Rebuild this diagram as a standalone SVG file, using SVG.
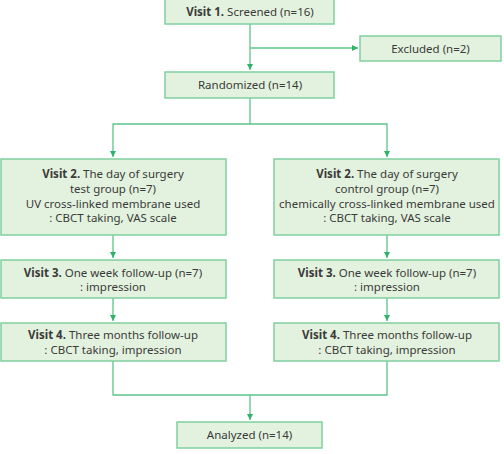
<svg xmlns="http://www.w3.org/2000/svg" width="504" height="454" viewBox="0 0 504 454">
<style>
.box{fill:#e3f2de;stroke:#7fcf9f;stroke-width:1.5}
.t{font-family:"Noto Sans","Open Sans",sans-serif;font-size:11.5px;fill:#3a3a3a;text-anchor:middle}
.b{font-weight:bold}
.ln{fill:none;stroke:#5cc48a;stroke-width:1.3}
</style>
<defs>
<marker id="ah" markerWidth="8" markerHeight="8" refX="6" refY="3" orient="auto" markerUnits="userSpaceOnUse">
<path d="M0,0 L6,3 L0,6 Z" fill="#2fb36a"/>
</marker>
</defs>
<rect width="504" height="454" fill="#ffffff"/>
<g id="connectors">
<path class="ln" d="M250,24 V70" marker-end="url(#ah)"/>
<path class="ln" d="M250,48 H358" marker-end="url(#ah)"/>
<path class="ln" d="M250,98 V124 H113 V157" marker-end="url(#ah)"/>
<path class="ln" d="M250,124 H387 V157" marker-end="url(#ah)"/>
<path class="ln" d="M113,235 V258" marker-end="url(#ah)"/>
<path class="ln" d="M387,235 V258" marker-end="url(#ah)"/>
<path class="ln" d="M113,298 V321" marker-end="url(#ah)"/>
<path class="ln" d="M387,298 V321" marker-end="url(#ah)"/>
<path class="ln" d="M113,361 V395 H387 V361"/>
<path class="ln" d="M250,395 V420" marker-end="url(#ah)"/>
</g>
<g id="visit1">
<rect class="box" x="165" y="-1" width="169" height="25"/>
<text class="t" x="250" y="16"><tspan class="b">Visit 1.</tspan> Screened (n=16)</text>
</g>
<g id="excluded">
<rect class="box" x="360" y="36" width="141" height="25"/>
<text class="t" x="430.5" y="52.5">Excluded (n=2)</text>
</g>
<g id="randomized">
<rect class="box" x="165" y="72" width="169" height="26"/>
<text class="t" x="250" y="88.5">Randomized (n=14)</text>
</g>
<g id="visit2-test">
<rect class="box" x="1" y="159" width="225" height="76"/>
<text class="t" x="113" y="178"><tspan class="b">Visit 2.</tspan> The day of surgery</text>
<text class="t" x="113" y="193">test group (n=7)</text>
<text class="t" x="113" y="208">UV cross-linked membrane used</text>
<text class="t" x="113" y="222">: CBCT taking, VAS scale</text>
</g>
<g id="visit2-control">
<rect class="box" x="274" y="159" width="225" height="76"/>
<text class="t" x="387" y="178"><tspan class="b">Visit 2.</tspan> The day of surgery</text>
<text class="t" x="387" y="193">control group (n=7)</text>
<text class="t" x="387" y="208">chemically cross-linked membrane used</text>
<text class="t" x="387" y="222">: CBCT taking, VAS scale</text>
</g>
<g id="visit3-test">
<rect class="box" x="1" y="260" width="225" height="38"/>
<text class="t" x="113" y="277"><tspan class="b">Visit 3.</tspan> One week follow-up (n=7)</text>
<text class="t" x="113" y="291">: impression</text>
</g>
<g id="visit3-control">
<rect class="box" x="274" y="260" width="225" height="38"/>
<text class="t" x="387" y="277"><tspan class="b">Visit 3.</tspan> One week follow-up (n=7)</text>
<text class="t" x="387" y="291">: impression</text>
</g>
<g id="visit4-test">
<rect class="box" x="1" y="323" width="225" height="38"/>
<text class="t" x="113" y="339"><tspan class="b">Visit 4.</tspan> Three months follow-up</text>
<text class="t" x="113" y="353.5">: CBCT taking, impression</text>
</g>
<g id="visit4-control">
<rect class="box" x="274" y="323" width="225" height="38"/>
<text class="t" x="387" y="339"><tspan class="b">Visit 4.</tspan> Three months follow-up</text>
<text class="t" x="387" y="353.5">: CBCT taking, impression</text>
</g>
<g id="analyzed">
<rect class="box" x="177" y="422" width="145" height="26"/>
<text class="t" x="249.5" y="439">Analyzed (n=14)</text>
</g>
</svg>
